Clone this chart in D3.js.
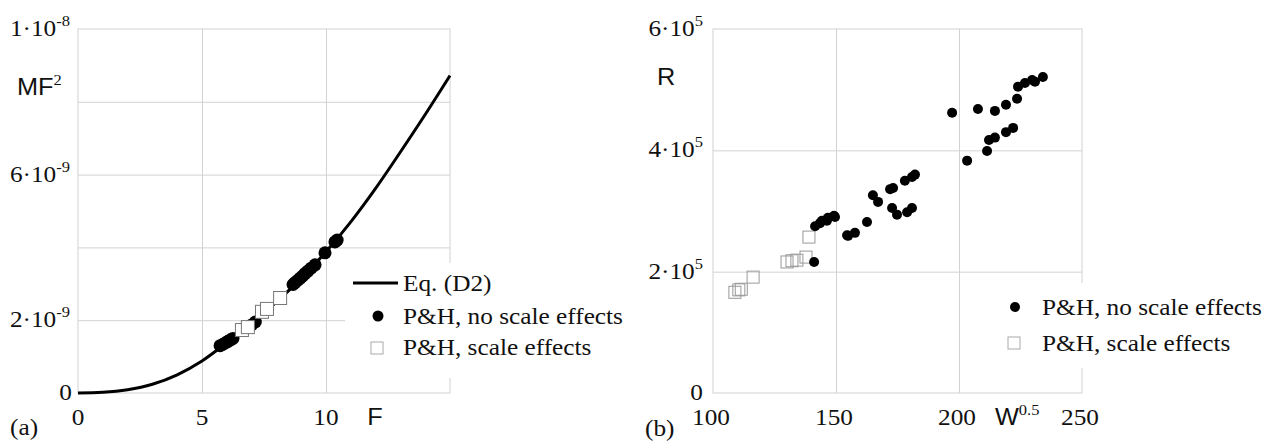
<!DOCTYPE html>
<html>
<head>
<meta charset="utf-8">
<script src="https://cdn.jsdelivr.net/npm/d3@7"></script>
<style>
    body { margin: 0; background: #ffffff; }
    svg { display: block; }
    .serif { font-family: "Liberation Serif", "DejaVu Serif", serif; }
    .sans { font-family: "Liberation Sans", Arial, sans-serif; }
</style>
</head>
<body>
<div id="chart"></div>
<script>
// Panel (a): MF^2 against F, curve of Eq. (D2) (units of 1e-9)
const curveF = [0, 1, 2, 3, 4, 5, 6, 7, 8, 9, 10, 11, 12, 13, 14, 15];
const curveMF = [0, 0.02, 0.09, 0.24, 0.50, 0.88, 1.38, 1.90, 2.50, 3.15, 3.88, 4.70, 5.62, 6.62, 7.65, 8.72];

// P&H points in panel (a)
const aNoScaleF = [5.73, 5.85, 5.95, 6.05, 6.15, 6.25, 7.0, 7.15, 8.67, 8.75, 8.85, 8.95, 9.05, 9.15, 9.27, 9.4, 9.56, 9.96, 10.36, 10.45];
const aNoScaleMF = [1.30, 1.34, 1.38, 1.42, 1.46, 1.50, 1.87, 1.95, 2.98, 3.03, 3.09, 3.15, 3.21, 3.28, 3.35, 3.43, 3.52, 3.85, 4.15, 4.20];
const aScaleF = [6.61, 6.85, 7.42, 7.62, 8.15];
const aScaleMF = [1.73, 1.81, 2.23, 2.31, 2.61];

// Panel (b): R against W^0.5 (R in thousands)
const bNoScaleW = [141.1, 141.5, 143.5, 144.3, 146.3, 146.7, 149.2, 149.6, 154.5, 154.9, 157.7, 162.6, 165.0, 167.1,
    172.0, 173.2, 172.8, 174.8, 178.9, 180.9, 178.0, 180.9, 182.1, 197.2, 207.7, 214.6, 219.1, 223.6, 224.0, 226.8,
    229.7, 230.9, 234.1, 203.3, 211.4, 212.2, 214.6, 219.1, 222.0];
const bNoScaleR = [216, 275, 280, 284, 284, 289, 292, 290, 260, 259, 264, 282, 326, 315,
    336, 338, 305, 294, 298, 305, 350, 356, 360, 462, 468, 465, 475, 485, 505, 511,
    516, 513, 521, 383, 399, 417, 421, 430, 437];
const bScaleW = [108.9, 110.5, 111.5, 116.3, 130.1, 132.1, 134.1, 137.8, 139.0];
const bScaleR = [166, 170, 171, 191, 216, 218, 219, 224, 257];

const width = 1277, height = 443;
const gridColor = "#d2d2d2";
const stretch = 1.1; // the source text is a little wider than Times

let svg = d3.select("#chart")
    .append("svg")
    .attr("width", width)
    .attr("height", height);

// Writes a label made of parts: [text, isSuperscript]; superscripts only come last
function label(x, y, parts, anchor, family) {
    let t = svg.append("text")
        .attr("class", family || "serif")
        .attr("transform", `translate(${x}, ${y}) scale(${stretch}, 1)`)
        .attr("text-anchor", anchor)
        .attr("font-size", 23)
        .attr("fill", "#111");
    parts.forEach(function (p) {
        if (p[1]) {
            t.append("tspan").attr("class", "serif").attr("dy", -10).attr("font-size", 15).text(p[0]);
        } else {
            t.append("tspan").text(p[0]);
        }
    });
    return t;
}

function grid(x, y, xTicks, yTicks) {
    const [x0, x1] = x.range();
    const [y0, y1] = y.range();
    svg.append("g")
        .attr("transform", `translate(0, ${y0})`)
        .call(d3.axisBottom(x).tickValues(xTicks).tickSize(-(y0 - y1)).tickFormat(""))
        .call(g => g.select(".domain").remove())
        .call(g => g.selectAll("line").attr("stroke", gridColor));
    svg.append("g")
        .attr("transform", `translate(${x0}, 0)`)
        .call(d3.axisLeft(y).tickValues(yTicks).tickSize(-(x1 - x0)).tickFormat(""))
        .call(g => g.select(".domain").remove())
        .call(g => g.selectAll("line").attr("stroke", gridColor));
    svg.append("rect")
        .attr("x", x0).attr("y", y1)
        .attr("width", x1 - x0).attr("height", y0 - y1)
        .attr("fill", "none")
        .attr("stroke", gridColor);
}

// ---------- panel (a) ----------
let xA = d3.scaleLinear().domain([0, 15]).range([78, 450]);
let yA = d3.scaleLinear().domain([0, 10]).range([393, 29]);

grid(xA, yA, [5, 10], [2, 4, 6, 8]);

let curveData = curveF.map((f, i) => [f, curveMF[i]]);
svg.append("path")
    .datum(curveData)
    .attr("fill", "none")
    .attr("stroke", "#000")
    .attr("stroke-width", 3)
    .attr("d", d3.line().x(d => xA(d[0])).y(d => yA(d[1])).curve(d3.curveMonotoneX));

svg.append("g").selectAll("circle")
    .data(aNoScaleF.map((f, i) => [f, aNoScaleMF[i]]))
    .enter()
    .append("circle")
    .attr("cx", d => xA(d[0]))
    .attr("cy", d => yA(d[1]))
    .attr("r", 6.5)
    .attr("fill", "#000");

svg.append("g").selectAll("rect")
    .data(aScaleF.map((f, i) => [f, aScaleMF[i]]))
    .enter()
    .append("rect")
    .attr("x", d => xA(d[0]) - 6.5)
    .attr("y", d => yA(d[1]) - 6.5)
    .attr("width", 13).attr("height", 13)
    .attr("fill", "#fff")
    .attr("stroke", "#777")
    .attr("stroke-width", 1);

// y labels (a)
label(70, yA(10) + 7, [["1\u00b710"], ["-8", true]], "end");
label(70, yA(6) + 7, [["6\u00b710"], ["-9", true]], "end");
label(70, yA(2) + 7, [["2\u00b710"], ["-9", true]], "end");
label(72, yA(0) + 7, [["0"]], "end");
label(17, 95, [["MF"], ["2", true]], "start", "sans");
// x labels (a)
[0, 5, 10].forEach(v => label(xA(v), 425, [[String(v)]], "middle"));
label(375, 425, [["F"]], "middle", "sans");
label(10, 435, [["(a)"]], "start");

// legend (a)
svg.append("rect").attr("x", 345).attr("y", 263).attr("width", 225).attr("height", 115).attr("fill", "#fff");
svg.append("line").attr("x1", 353).attr("x2", 398).attr("y1", 283).attr("y2", 283)
    .attr("stroke", "#000").attr("stroke-width", 3);
svg.append("circle").attr("cx", 378).attr("cy", 316).attr("r", 5.5).attr("fill", "#000");
svg.append("rect").attr("x", 371).attr("y", 342).attr("width", 12).attr("height", 12)
    .attr("fill", "#fff").attr("stroke", "#aaa");
label(403, 291, [["Eq. (D2)"]], "start");
label(403, 324, [["P&H, no scale effects"]], "start");
label(403, 355, [["P&H, scale effects"]], "start");

// ---------- panel (b) ----------
let xB = d3.scaleLinear().domain([100, 250]).range([713, 1082]);
let yB = d3.scaleLinear().domain([0, 600]).range([393, 29]);

grid(xB, yB, [150, 200], [200, 400]);

svg.append("g").selectAll("rect")
    .data(bScaleW.map((w, i) => [w, bScaleR[i]]))
    .enter()
    .append("rect")
    .attr("x", d => xB(d[0]) - 6)
    .attr("y", d => yB(d[1]) - 6)
    .attr("width", 12).attr("height", 12)
    .attr("fill", "none")
    .attr("stroke", "#999")
    .attr("stroke-width", 1);

svg.append("g").selectAll("circle")
    .data(bNoScaleW.map((w, i) => [w, bNoScaleR[i]]))
    .enter()
    .append("circle")
    .attr("cx", d => xB(d[0]))
    .attr("cy", d => yB(d[1]))
    .attr("r", 5)
    .attr("fill", "#000");

// y labels (b)
label(703, yB(600) + 7, [["6\u00b710"], ["5", true]], "end");
label(703, yB(400) + 7, [["4\u00b710"], ["5", true]], "end");
label(703, yB(200) + 7, [["2\u00b710"], ["5", true]], "end");
label(703, yB(0) + 7, [["0"]], "end");
label(666, 85, [["R"]], "middle", "sans");
// x labels (b)
[100, 150, 200, 250].forEach(v => label(xB(v) - 2, 425, [[String(v)]], "middle"));
label(995, 425, [["W"], ["0.5", true]], "start", "sans");
label(645, 436, [["(b)"]], "start");

// legend (b)
svg.append("rect").attr("x", 995).attr("y", 283).attr("width", 282).attr("height", 85).attr("fill", "#fff");
svg.append("circle").attr("cx", 1015).attr("cy", 307).attr("r", 5).attr("fill", "#000");
svg.append("rect").attr("x", 1008).attr("y", 337).attr("width", 12).attr("height", 12)
    .attr("fill", "#fff").attr("stroke", "#aaa");
label(1042, 315, [["P&H, no scale effects"]], "start");
label(1042, 351, [["P&H, scale effects"]], "start");
</script>
</body>
</html>
